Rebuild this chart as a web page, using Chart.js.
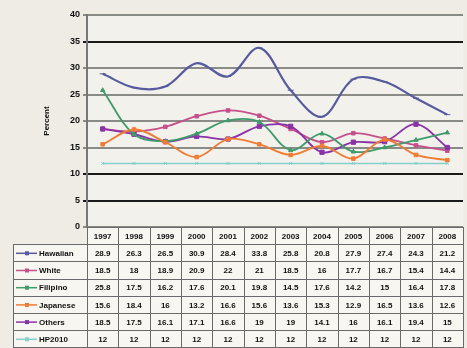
<!DOCTYPE html>
<html>
<head>
<meta charset="utf-8">
<script src="https://cdn.jsdelivr.net/npm/chart.js@4.4.1/dist/chart.umd.min.js"></script>
<style>
  html, body { margin: 0; padding: 0; background: #eeece4; }
  #wrap { width: 467px; height: 348px; position: relative; }
  canvas { display: block; }
</style>
</head>
<body>
<div id="wrap"><canvas id="c" width="467" height="348"></canvas></div>
<script>
// Years surveyed
const years = ['1997', '1998', '1999', '2000', '2001', '2002', '2003', '2004', '2005', '2006', '2007', '2008'];

// Percent by ethnic group
const hawaiian = [28.9, 26.3, 26.5, 30.9, 28.4, 33.8, 25.8, 20.8, 27.9, 27.4, 24.3, 21.2];
const white    = [18.5, 18, 18.9, 20.9, 22, 21, 18.5, 16, 17.7, 16.7, 15.4, 14.4];
const filipino = [25.8, 17.5, 16.2, 17.6, 20.1, 19.8, 14.5, 17.6, 14.2, 15, 16.4, 17.8];
const japanese = [15.6, 18.4, 16, 13.2, 16.6, 15.6, 13.6, 15.3, 12.9, 16.5, 13.6, 12.6];
const others   = [18.5, 17.5, 16.1, 17.1, 16.6, 19, 19, 14.1, 16, 16.1, 19.4, 15];
const hp2010   = [12, 12, 12, 12, 12, 12, 12, 12, 12, 12, 12, 12];

const seriesNames = ['Hawaiian', 'White', 'Filipino', 'Japanese', 'Others', 'HP2010'];
const yTicks = [0, 5, 10, 15, 20, 25, 30, 35, 40];

const PLOT_LEFT = 87;
const PLOT_TOP = 15;
const PLOT_BOTTOM = 227;
const ROW_H = 17.2;
const FONT = 'bold 8px "Liberation Sans", Arial, sans-serif';

function ds(label, data, color, style, width, radius) {
  return {
    label, data,
    borderColor: color, backgroundColor: color,
    borderWidth: width, pointStyle: style,
    pointRadius: radius, pointHoverRadius: radius,
    pointBorderWidth: 1, tension: 0.35, fill: false
  };
}

const datasets = [
  ds(seriesNames[5], hp2010,   '#86cfcf', 'crossRot', 1.5, 2),
  ds(seriesNames[3], japanese, '#f07c34', 'rect',     1.8, 2.5),
  ds(seriesNames[2], filipino, '#3f9a6c', 'triangle', 1.8, 2.5),
  ds(seriesNames[4], others,   '#8a33a6', 'rect',     1.8, 3),
  ds(seriesNames[1], white,    '#c4508c', 'rect',     1.8, 2.5),
  ds(seriesNames[0], hawaiian, '#575a9e', 'line',     2.2, 3)
];

// Draws the data table beneath the plot, aligned to the category scale
const tablePlugin = {
  id: 'dataTable',
  beforeDraw(chart) {
    const { ctx, chartArea: a } = chart;
    ctx.save();
    ctx.fillStyle = '#f3f1eb';
    ctx.fillRect(a.left, a.top, a.right - a.left, a.bottom - a.top);
    ctx.restore();
  },
  afterDraw(chart) {
    const { ctx, chartArea: a } = chart;
    const xs = chart.scales.x;
    const n = years.length;
    const colW = (a.right - a.left) / n;
    const top = a.bottom;
    const labelLeft = 13;
    const rows = [hawaiian, white, filipino, japanese, others, hp2010];
    const colors = ['#575a9e', '#c4508c', '#3f9a6c', '#f07c34', '#8a33a6', '#86cfcf'];

    ctx.save();
    ctx.fillStyle = '#f7f6f1';
    ctx.fillRect(a.left, top, a.right - a.left, ROW_H);
    ctx.fillRect(labelLeft, top + ROW_H, a.right - labelLeft, ROW_H * rows.length);

    ctx.strokeStyle = '#6a6a6a';
    ctx.lineWidth = 1;
    ctx.beginPath();
    // horizontal lines
    ctx.moveTo(a.left, top + 0.5); ctx.lineTo(a.right, top + 0.5);
    for (let r = 1; r <= rows.length + 1; r++) {
      const y = Math.round(top + r * ROW_H) + 0.5;
      ctx.moveTo(labelLeft, y); ctx.lineTo(a.right, y);
    }
    // vertical lines
    ctx.moveTo(labelLeft + 0.5, top + ROW_H); ctx.lineTo(labelLeft + 0.5, 348);
    for (let i = 0; i <= n; i++) {
      const x = Math.round(a.left + i * colW) + 0.5;
      ctx.moveTo(x, top); ctx.lineTo(x, 348);
    }
    ctx.stroke();

    ctx.font = FONT;
    ctx.fillStyle = '#111';
    ctx.textAlign = 'center';
    ctx.textBaseline = 'middle';
    years.forEach((yr, i) => {
      ctx.fillText(yr, xs.getPixelForValue(i), top + ROW_H / 2 + 1);
    });
    rows.forEach((vals, r) => {
      const cy = top + (r + 1) * ROW_H + ROW_H / 2 + 1;
      vals.forEach((v, i) => {
        ctx.fillText(String(v), xs.getPixelForValue(i), cy);
      });
      // legend key
      ctx.strokeStyle = colors[r];
      ctx.lineWidth = 1.5;
      ctx.beginPath();
      ctx.moveTo(16, cy - 0.5); ctx.lineTo(37, cy - 0.5);
      ctx.stroke();
      ctx.fillStyle = colors[r];
      ctx.fillRect(25, cy - 2.5, 4, 4);
      ctx.fillStyle = '#111';
      ctx.textAlign = 'left';
      ctx.fillText(seriesNames[r], 39, cy);
      ctx.textAlign = 'center';
    });
    ctx.restore();
  }
};

new Chart(document.getElementById('c'), {
  type: 'line',
  data: { labels: years, datasets },
  options: {
    responsive: false,
    animation: false,
    layout: { padding: { left: 0, top: PLOT_TOP, right: 4, bottom: 348 - PLOT_BOTTOM } },
    plugins: { legend: { display: false }, tooltip: { enabled: false } },
    scales: {
      x: {
        display: false,
        offset: true
      },
      y: {
        min: 0, max: 40,
        afterFit(scale) { scale.width = PLOT_LEFT; },
        afterBuildTicks(scale) { scale.ticks = yTicks.map(v => ({ value: v })); },
        ticks: {
          color: '#111',
          font: { family: '"Liberation Sans", Arial, sans-serif', size: 9, weight: 'bold' },
          padding: 3
        },
        title: {
          display: true, text: 'Percent', color: '#111',
          font: { family: '"Liberation Sans", Arial, sans-serif', size: 8, weight: 'bold' },
          padding: { top: 42, bottom: 0 }
        },
        border: { display: true, color: '#777', width: 2 },
        grid: {
          color: (c) => ([5, 10, 35].includes(c.tick && c.tick.value) ? '#1a1a1a' : '#8a8a86'),
          lineWidth: 2,
          tickLength: 4
        }
      }
    }
  },
  plugins: [tablePlugin]
});
</script>
</body>
</html>
